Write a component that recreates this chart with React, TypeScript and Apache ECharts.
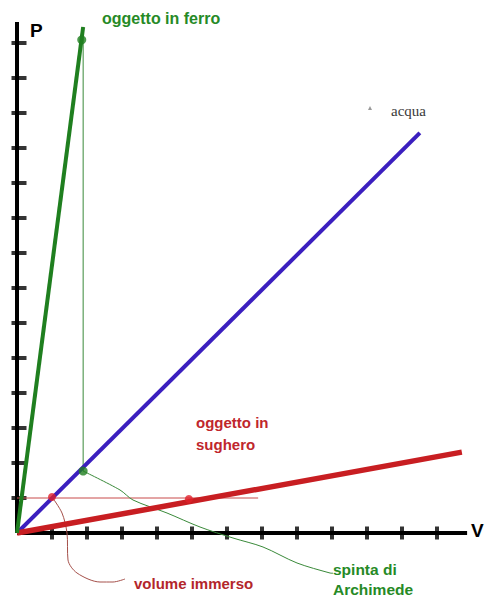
import React, { useEffect, useRef } from "react";
import * as echarts from "echarts";

// Units: one tick spacing = 1
const yTicks = [1, 2, 3, 4, 5, 6, 7, 8, 9, 10, 11, 12, 13, 14];
const xTicks = [1, 2, 3, 4, 5, 6, 7, 8, 9, 10, 11, 12];
const yAxisTop = 14.6;
const xAxisEnd = 12.86;

const ironLine = [[0, 0], [1.89, 14.46]];
const waterLine = [[0, 0], [11.51, 11.43]];
const corkLine = [[0, 0], [12.71, 2.31]];
const ironGuide = [[1.89, 14.46], [1.89, 1.77]];
const corkGuide = [[0, 1.0], [6.89, 1.0]];
const greenDots = [[1.85, 14.09], [1.89, 1.77]];
const redDots = [[1.0, 1.03], [4.91, 0.97]];
const spintaCurve = [
  [1.886, 1.771], [2.943, 1.229], [3.314, 0.943], [4.286, 0.571], [5.229, 0.171],
  [6.171, -0.143], [7.029, -0.4], [8.0, -0.857], [8.943, -1.143], [9.03, -1.15],
];
const volumeCurve = [
  [1.0, 1.029], [1.286, 0.571], [1.429, 0], [1.457, -0.771], [1.714, -1.143],
  [2.371, -1.4], [2.743, -1.4], [3.086, -1.314],
];

const GREEN = "#1f7f1f";
const BLUE = "#3b1fbf";
const RED = "#c81e22";
const SANS = "Liberation Sans, Arial, sans-serif";

export default function App() {
  const ref = useRef<HTMLDivElement>(null);
  useEffect(() => {
    if (!ref.current) return;
    const chart = echarts.init(ref.current, undefined, { renderer: "svg" });
    const line = (data: number[][], color: string, width: number, z = 2, smooth: any = false) => ({
      type: "line",
      data,
      symbol: "none",
      smooth,
      lineStyle: { color, width },
      z,
      silent: true,
    });
    chart.setOption({
      animation: false,
      backgroundColor: "#ffffff",
      grid: { left: 0, right: 0, top: 0, bottom: 0 },
      xAxis: { type: "value", min: -17 / 35, max: 469 / 35, show: false },
      yAxis: { type: "value", min: -73 / 35, max: 533 / 35, show: false },
      series: [
        line([[0, 0], [0, yAxisTop]], "#000", 4, 1),
        line([[0, 0], [xAxisEnd, 0]], "#000", 4, 1),
        {
          type: "scatter",
          data: yTicks.map((v) => [0, v]),
          symbol: "rect",
          symbolSize: [15, 4],
          symbolOffset: [2, 0],
          itemStyle: { color: "#000" },
          silent: true,
          z: 1,
        },
        {
          type: "scatter",
          data: xTicks.map((v) => [v, 0]),
          symbol: "rect",
          symbolSize: [4, 13],
          itemStyle: { color: "#000" },
          silent: true,
          z: 1,
        },
        line(ironGuide, "#3a8a3a", 1, 2),
        line(corkGuide, "#c84a4a", 1, 2),
        line(spintaCurve, "#3a8a3a", 1, 2, 0.3),
        line(volumeCurve, "#a5504a", 1, 2, 0.3),
        line(waterLine, BLUE, 4, 3),
        line(corkLine, RED, 5.5, 3),
        line(ironLine, GREEN, 4, 3),
        {
          type: "scatter",
          data: greenDots,
          symbolSize: 9,
          itemStyle: { color: GREEN },
          silent: true,
          z: 5,
        },
        {
          type: "scatter",
          data: redDots,
          symbolSize: 8,
          itemStyle: { color: "#e0202a" },
          silent: true,
          z: 5,
        },
      ],
      graphic: [
        { type: "text", x: 30, y: 30, style: { text: "P", fill: "#000", font: `bold 19px ${SANS}`, verticalAlign: "middle" } },
        { type: "text", x: 471, y: 530, style: { text: "V", fill: "#000", font: `bold 19px ${SANS}`, verticalAlign: "middle" } },
        { type: "text", x: 102, y: 18, style: { text: "oggetto in ferro", fill: "#268a26", font: `bold 16px ${SANS}`, verticalAlign: "middle" } },
        { type: "text", x: 391, y: 111, style: { text: "acqua", fill: "#3a3a3a", font: `15px Liberation Serif, Times New Roman, serif`, verticalAlign: "middle" } },
        { type: "polygon", shape: { points: [[368, 110], [372, 110], [370, 106]] }, style: { fill: "#999" } },
        { type: "text", x: 196, y: 422, style: { text: "oggetto in", fill: "#c0262c", font: `bold 15px ${SANS}`, verticalAlign: "middle" } },
        { type: "text", x: 196, y: 444, style: { text: "sughero", fill: "#c0262c", font: `bold 15px ${SANS}`, verticalAlign: "middle" } },
        { type: "text", x: 134, y: 583, style: { text: "volume immerso", fill: "#b3262b", font: `bold 15px ${SANS}`, verticalAlign: "middle" } },
        { type: "text", x: 333, y: 569, style: { text: "spinta di", fill: "#268a26", font: `bold 15.5px ${SANS}`, verticalAlign: "middle" } },
        { type: "text", x: 333, y: 589, style: { text: "Archimede", fill: "#268a26", font: `bold 15.5px ${SANS}`, verticalAlign: "middle" } },
      ],
    });
    return () => chart.dispose();
  }, []);
  return (
    <div
      ref={ref}
      style={{ position: "absolute", left: 0, top: 0, width: 486, height: 606 }}
    />
  );
}
